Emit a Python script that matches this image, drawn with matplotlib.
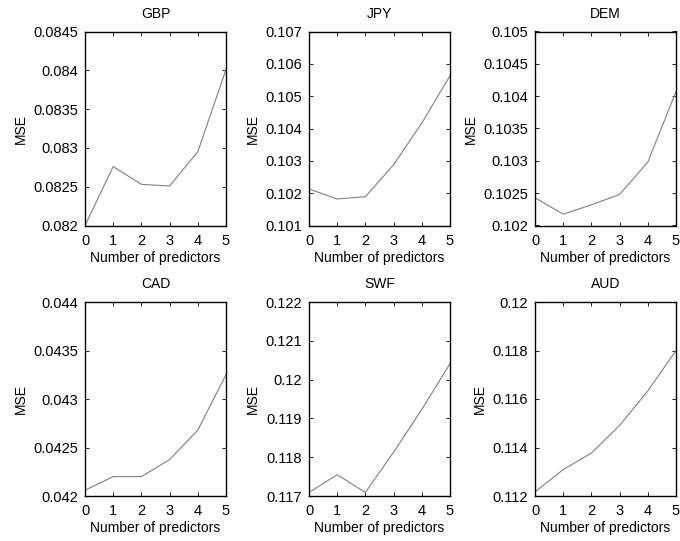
import matplotlib
matplotlib.use("Agg")
import matplotlib.pyplot as plt
import numpy as np

plt.rcParams['font.family'] = ['Liberation Sans', 'DejaVu Sans']
plt.rcParams['font.size'] = 10

predictors = [0, 1, 2, 3, 4, 5]
titles = ["GBP", "JPY", "DEM", "CAD", "SWF", "AUD"]
gbp = [0.08200, 0.08276, 0.08253, 0.08251, 0.08295, 0.08401]
jpy = [0.10213, 0.10182, 0.10189, 0.10288, 0.10417, 0.10563]
dem = [0.10243, 0.102175, 0.10232, 0.10248, 0.10298, 0.10407]
cad = [0.04206, 0.04220, 0.04220, 0.042375, 0.04268, 0.04325]
swf = [0.11709, 0.11755, 0.11709, 0.11813, 0.11923, 0.12041]
aud = [0.11217, 0.11309, 0.11377, 0.11491, 0.11633, 0.11800]
series = [gbp, jpy, dem, cad, swf, aud]

ylims = [(0.082, 0.0845), (0.101, 0.107), (0.102, 0.105),
         (0.042, 0.044), (0.117, 0.122), (0.112, 0.120)]
yticks = [
    [0.082, 0.0825, 0.083, 0.0835, 0.084, 0.0845],
    [0.101, 0.102, 0.103, 0.104, 0.105, 0.106, 0.107],
    [0.102, 0.1025, 0.103, 0.1035, 0.104, 0.1045, 0.105],
    [0.042, 0.0425, 0.043, 0.0435, 0.044],
    [0.117, 0.118, 0.119, 0.12, 0.121, 0.122],
    [0.112, 0.114, 0.116, 0.118, 0.12],
]
ytick_labels = [
    ["0.082", "0.0825", "0.083", "0.0835", "0.084", "0.0845"],
    ["0.101", "0.102", "0.103", "0.104", "0.105", "0.106", "0.107"],
    ["0.102", "0.1025", "0.103", "0.1035", "0.104", "0.1045", "0.105"],
    ["0.042", "0.0425", "0.043", "0.0435", "0.044"],
    ["0.117", "0.118", "0.119", "0.12", "0.121", "0.122"],
    ["0.112", "0.114", "0.116", "0.118", "0.12"],
]

W, H = 680, 541
fig = plt.figure(figsize=(W / 100, H / 100), dpi=100)

lefts = [85, 309, 535]
tops = [31.5, 302]
aw, ah = 141, 194

for i in range(6):
    r, c = divmod(i, 3)
    ax = fig.add_axes([lefts[c] / W, 1 - (tops[r] + ah) / H, aw / W, ah / H])
    ax.plot(predictors, series[i], color="#808080", linewidth=0.8)
    ax.set_xlim(0, 5)
    ax.set_ylim(*ylims[i])
    ax.set_xticks(predictors)
    ax.set_yticks(yticks[i])
    ax.set_yticklabels(ytick_labels[i])
    ax.tick_params(direction="in", top=True, right=True, length=3,
                   width=0.6, labelsize=10.5)
    ax.tick_params(axis="x", pad=6)
    ax.tick_params(axis="y", pad=5)
    for s in ax.spines.values():
        s.set_linewidth(1.0)
    ax.set_title(titles[i], fontsize=10, pad=10)
    ax.set_xlabel("Number of predictors", fontsize=10, labelpad=2)
    ax.set_ylabel("MSE", fontsize=10, labelpad=4)

fig.savefig("out.png", dpi=100)
